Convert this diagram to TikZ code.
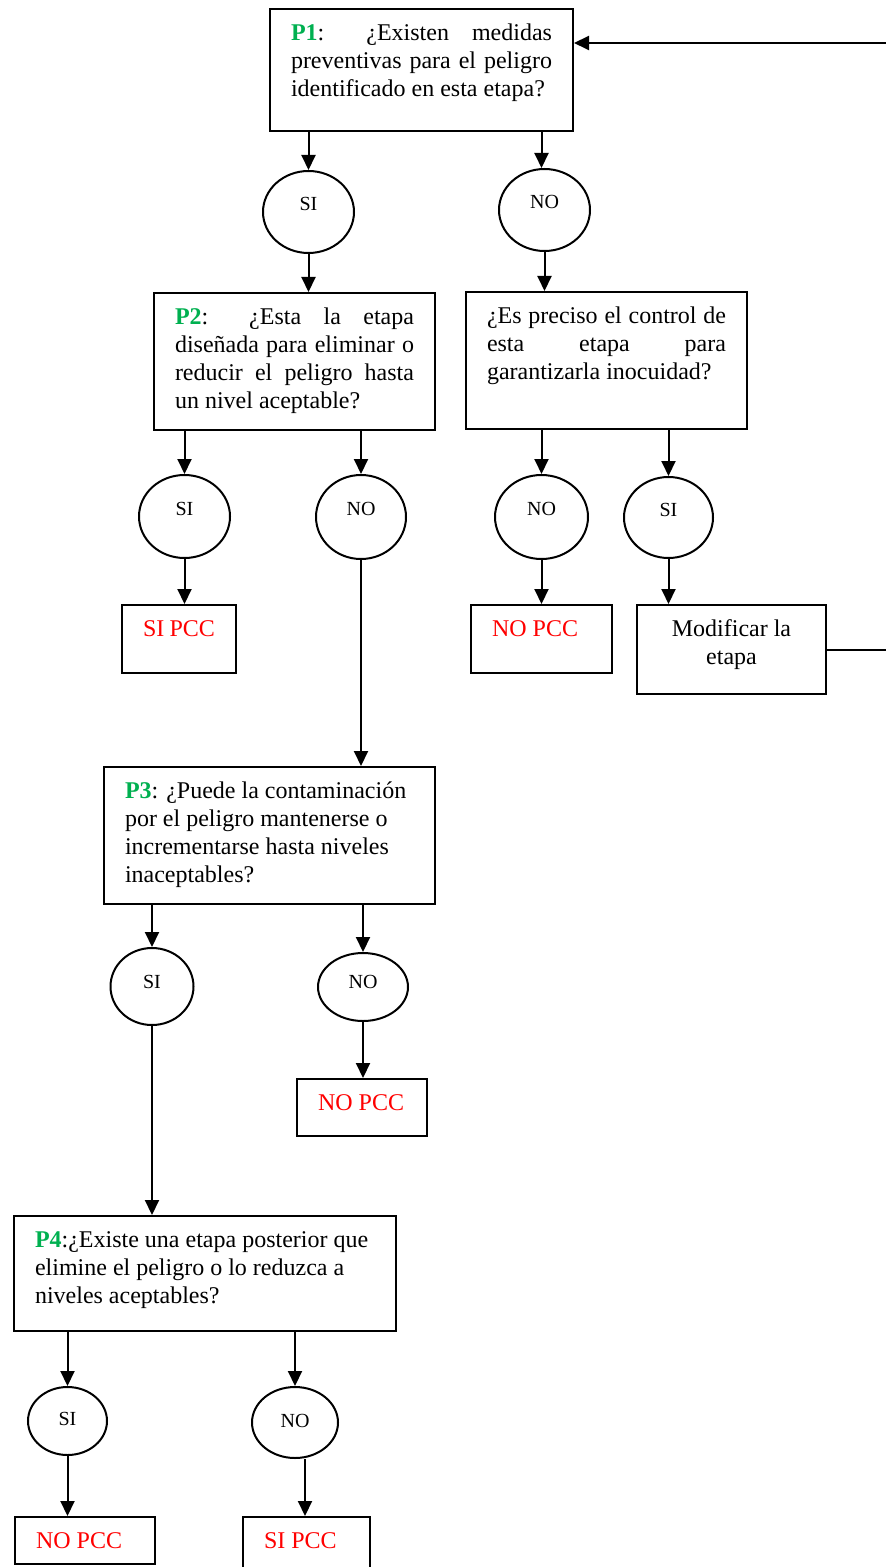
\documentclass[tikz,border=0pt]{standalone}
\usepackage{fontspec}
\setmainfont{Liberation Serif}
\usetikzlibrary{arrows.meta,positioning,shapes.geometric}
\definecolor{verdep}{HTML}{00B050}
\hyphenpenalty=10000
\tolerance=10000
\hbadness=10000

\begin{document}
\begin{tikzpicture}[
    x=0.5pt, y=-0.5pt,
    font=\fontsize{12}{14}\selectfont,
    >={Triangle[length=7.5pt,width=7pt]},
    caja/.style  ={rectangle, draw=black, line width=1pt, anchor=north west,
                   inner xsep=10.5pt, inner ysep=6pt},
    resp/.style  ={ellipse, draw=black, line width=1pt, inner sep=0pt,
                   font=\fontsize{10}{12}\selectfont,
                   text height=6pt, text depth=7.4pt},
    flow/.style  ={->, line width=1pt},
]
\useasboundingbox (0,0) rectangle (886,1567);
\clip (0,0) rectangle (886,1567);

% ----------------------------------------------------------------------
%  P1 and its two answers
% ----------------------------------------------------------------------
\node[caja] (p1) at (269,8)
    {\parbox[c][49pt][t]{130.5pt}{\strut\textcolor{verdep}{\textbf{P1}}: ¿Existen medidas\linebreak
     preventivas para el peligro\linebreak identificado en esta etapa?}};

\node[resp, minimum width=45.5pt, minimum height=41pt] (si1) at (308.5,212) {SI};
\node[resp, minimum width=45.5pt, minimum height=41pt] (no1) at (544.5,210) {NO};

% ----------------------------------------------------------------------
%  P2 (left) and control question (right)
% ----------------------------------------------------------------------
\node[caja] (p2) at (153,292)
    {\parbox[c][56.5pt][t]{119.5pt}{\strut\textcolor{verdep}{\textbf{P2}}: ¿Esta la etapa\linebreak
     diseñada para eliminar o\linebreak reducir el peligro hasta\linebreak un nivel aceptable?}};
\node[caja] (ctrl) at (465,291)
    {\parbox[c][56.5pt][t]{119.5pt}{\strut ¿Es preciso el control de\linebreak
     esta etapa para\linebreak garantizarla inocuidad?}};

\node[resp, minimum width=45.5pt, minimum height=41.5pt] (si2) at (184.5,516.5) {SI};
\node[resp, minimum width=45pt,   minimum height=42pt]   (no2) at (361,517) {NO};
\node[resp, minimum width=46.5pt, minimum height=42pt]   (no3) at (541.5,517) {NO};
\node[resp, minimum width=44.5pt, minimum height=40.5pt] (si3) at (668.5,517.5) {SI};

\node[caja] (sipcca) at (121,604)
    {\parbox[c][22pt][t]{36pt}{\strut\textcolor{red}{SI PCC}}};
\node[caja] (nopcca) at (470,604)
    {\parbox[c][22pt][t]{49.5pt}{\strut\textcolor{red}{NO PCC}}};
\node[caja] (modif) at (636,604)
    {\parbox[c][32.5pt][t]{73.5pt}{\centering\strut Modificar la\\ etapa}};

% ----------------------------------------------------------------------
%  P3
% ----------------------------------------------------------------------
\node[caja] (p3) at (103,766)
    {\parbox[c][56.5pt][t]{144.5pt}{\raggedright\strut\textcolor{verdep}{\textbf{P3}}: ¿Puede la contaminación\\
     por el peligro mantenerse o\\ incrementarse hasta niveles\\ inaceptables?}};

\node[resp, minimum width=41.5pt, minimum height=38.5pt, text depth=4.4pt] (si4) at (152,986.5) {SI};
\node[resp, minimum width=45pt,   minimum height=34pt,   text depth=4.4pt] (no4) at (363,987) {NO};

\node[caja] (nopccb) at (296,1078)
    {\parbox[c][16.5pt][t]{44pt}{\strut\textcolor{red}{NO PCC}}};

% ----------------------------------------------------------------------
%  P4
% ----------------------------------------------------------------------
\node[caja] (p4) at (13,1215)
    {\parbox[c][45.5pt][t]{170pt}{\raggedright\strut\textcolor{verdep}{\textbf{P4}}:¿Existe una etapa posterior que\\
     elimine el peligro o lo reduzca a\\ niveles aceptables?}};

\node[resp, minimum width=39.5pt, minimum height=34pt,   text depth=1.4pt] (si5) at (67.5,1421) {SI};
\node[resp, minimum width=43pt,   minimum height=35.5pt, text depth=1.4pt] (no5) at (295,1422.5) {NO};

\node[caja] (nopccc) at (14,1516)
    {\parbox[c][11.5pt][t]{49pt}{\strut\textcolor{red}{NO PCC}}};
\node[caja] (sipccc) at (242,1516)
    {\parbox[c][18pt][t]{42.5pt}{\strut\textcolor{red}{SI PCC}}};

% --- connectors ---
\draw[flow] (p1.south -| si1) -- (si1);
\draw[flow] ([xshift=-1.5pt]p1.south -| no1) -- ([xshift=-1.5pt]no1.north);
\draw[flow] (si1) -- (si1 |- p2.north);
\draw[flow] (no1) -- (no1 |- ctrl.north);

\draw[flow] (p2.south -| si2) -- (si2);
\draw[flow] (p2.south -| no2) -- (no2);
\draw[flow] (si2) -- (si2 |- sipcca.north);
\draw[flow] (no2) -- (no2 |- p3.north);

\draw[flow] (ctrl.south -| no3) -- (no3);
\draw[flow] (ctrl.south -| si3) -- (si3);
\draw[flow] (no3) -- (no3 |- nopcca.north);
\draw[flow] (si3) -- (si3 |- modif.north);

% back to P1 (vertical run lies outside the page)
\draw[flow] (modif.east) -- ++(75,0) |- ([yshift=13.5pt]p1.east);

\draw[flow] (p3.south -| si4) -- (si4);
\draw[flow] (p3.south -| no4) -- (no4);
\draw[flow] (no4) -- (no4 |- nopccb.north);
\draw[flow] (si4) -- (si4 |- p4.north);

\draw[flow] (p4.south -| si5) -- (si5);
\draw[flow] (p4.south -| no5) -- (no5);
\draw[flow] (si5) -- (si5 |- nopccc.north);
\draw[flow] ([xshift=5pt]no5.south) -- ([xshift=5pt]no5.south |- sipccc.north);

\end{tikzpicture}
\end{document}
